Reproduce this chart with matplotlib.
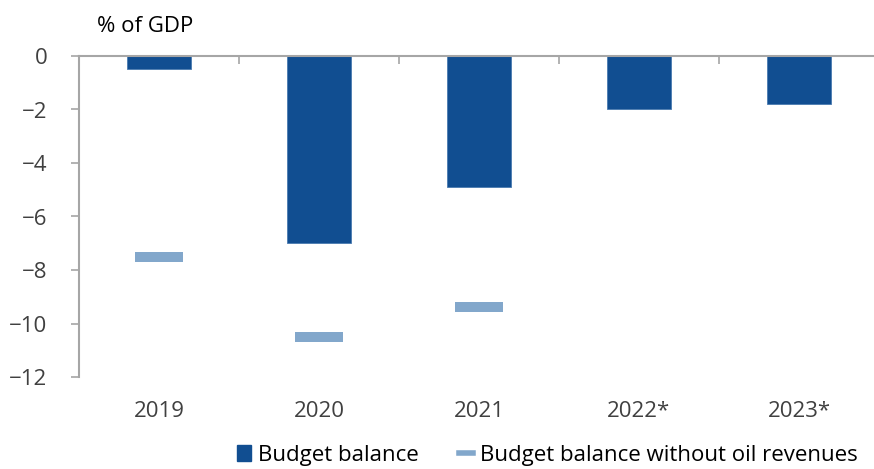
import numpy as np
import matplotlib.pyplot as plt
from matplotlib.patches import Patch
from matplotlib.lines import Line2D

plt.rcParams['font.family'] = ['Open Sans', 'DejaVu Sans']

years = ['2019', '2020', '2021', '2022*', '2023*']
budget_balance = [-0.5, -7.0, -4.9, -2.0, -1.8]
balance_without_oil = [-7.5, -10.5, -9.4, np.nan, np.nan]

bar_color = '#114E91'
dash_color = '#82A7CB'
axis_color = '#A6A6A6'
text_color = '#404040'

fig = plt.figure(figsize=(8.74, 4.69), dpi=100)
ax = fig.add_axes([79 / 874, 1 - 377 / 469, 800 / 874, 321 / 469])

x = np.arange(len(years))
ax.bar(x, budget_balance, width=0.4, color=bar_color, edgecolor='#4A7AB0', linewidth=0.6, zorder=2)
ax.hlines(balance_without_oil, x - 0.15, x + 0.15, colors=dash_color, linewidth=7.2, zorder=3)

ax.set_xlim(-0.5, len(years) - 0.5)
ax.set_ylim(-12, 0)
ax.set_yticks(np.arange(-12, 1, 2))

# the category axis sits on the zero line (top spine), labels stay at the bottom
for side in ['right', 'bottom']:
    ax.spines[side].set_visible(False)
for side in ['left', 'top']:
    ax.spines[side].set_color(axis_color)
    ax.spines[side].set_linewidth(1.5)

ax.set_xticks(x)
ax.set_xticklabels(years)
ax.set_xticks(np.arange(-0.5, len(years), 1.0), minor=True)
ax.tick_params(axis='x', which='major', length=0, pad=17, labelsize=16, labelcolor=text_color)
ax.tick_params(axis='x', which='minor', top=True, bottom=False, direction='in',
               length=5.5, width=1.2, color=axis_color)
ax.tick_params(axis='y', direction='out', length=5.8, width=1.2, color=axis_color,
               pad=17, labelsize=16, labelcolor=text_color)

fig.text(97 / 874, 1 - 32 / 469, '% of GDP', fontsize=16, color='black', va='baseline')

handles = [Patch(facecolor=bar_color, edgecolor=bar_color),
           Line2D([0], [0], color=dash_color, linewidth=4)]
fig.legend(handles, ['Budget balance', 'Budget balance without oil revenues'],
           loc='center', bbox_to_anchor=(0.626, 1 - 455 / 469), ncol=2, frameon=False,
           fontsize=16, handlelength=0.65, handleheight=0.7, handletextpad=0.3,
           columnspacing=1.8, labelcolor='black')

fig.savefig('out.png', dpi=100)
